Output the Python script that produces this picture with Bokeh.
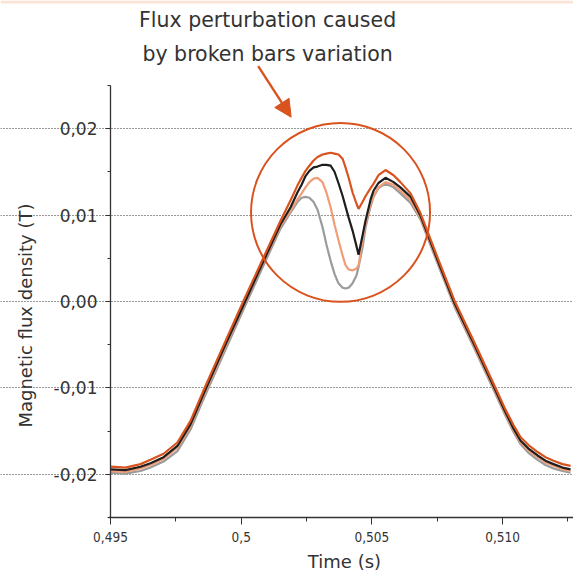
import math
from bokeh.plotting import figure
from bokeh.models import FixedTicker, Label, Arrow, NormalHead, Range1d, BoxAnnotation
from bokeh.embed import file_html
from bokeh.resources import INLINE

# ---- data ----
time_s = [0.49500, 0.49557, 0.49615, 0.49653, 0.49703, 0.49756, 0.49806, 0.49860,
          0.49932, 0.50009, 0.50081, 0.50150,
          0.50189, 0.50215, 0.50231, 0.50246, 0.50261, 0.50277, 0.50292, 0.50311,
          0.50326, 0.50342, 0.50357, 0.50372, 0.50388, 0.50399, 0.50411, 0.50426,
          0.50441, 0.50449, 0.50464, 0.50476, 0.50495, 0.50506, 0.50525, 0.50552,
          0.50583, 0.50609, 0.50648,
          0.50686, 0.50751, 0.50816, 0.50893, 0.50973, 0.51011, 0.51042, 0.51069,
          0.51099, 0.51134, 0.51164, 0.51195, 0.51229, 0.51260]

flux_orange = [-0.0191, -0.0192, -0.0188, -0.0183, -0.0176, -0.0163, -0.0138, -0.0100,
               -0.0051, 0.0001, 0.0048, 0.0093,
               0.0117, 0.0134, 0.0143, 0.0151, 0.0157, 0.0163, 0.0167, 0.0170,
               0.0171, 0.0172, 0.0171, 0.0170, 0.0165, 0.0155, 0.0143, 0.0126,
               0.0113, 0.0107, 0.0115, 0.0122, 0.0131, 0.0136, 0.0146, 0.0152,
               0.0146, 0.0138, 0.0125,
               0.0102, 0.0051, 0.0001, -0.0048, -0.0100, -0.0125, -0.0143, -0.0157,
               -0.0166, -0.0174, -0.0180, -0.0184, -0.0188, -0.0190]

flux_black = [-0.0194, -0.0195, -0.0191, -0.0187, -0.0180, -0.0167, -0.0142, -0.0104,
              -0.0055, -0.0004, 0.0044, 0.0089,
              0.0109, 0.0126, 0.0135, 0.0145, 0.0151, 0.0155, 0.0156, 0.0158,
              0.0158, 0.0157, 0.0150, 0.0137, 0.0122, 0.0110, 0.0097, 0.0082,
              0.0064, 0.0054, 0.0076, 0.0094, 0.0118, 0.0128, 0.0137, 0.0143,
              0.0138, 0.0132, 0.0121,
              0.0099, 0.0048, -0.0002, -0.0051, -0.0103, -0.0128, -0.0147, -0.0161,
              -0.0170, -0.0178, -0.0184, -0.0188, -0.0192, -0.0194]

flux_salmon = [-0.0196, -0.0197, -0.0193, -0.0189, -0.0182, -0.0169, -0.0144, -0.0106,
               -0.0057, -0.0005, 0.0043, 0.0087,
               0.0105, 0.0118, 0.0125, 0.0132, 0.0138, 0.0142, 0.0143, 0.0138,
               0.0126, 0.0109, 0.0089, 0.0071, 0.0053, 0.0042, 0.0037, 0.0036,
               0.0038, 0.0042, 0.0070, 0.0090, 0.0113, 0.0122, 0.0132, 0.0138,
               0.0135, 0.0128, 0.0117,
               0.0097, 0.0046, -0.0004, -0.0053, -0.0105, -0.0130, -0.0149, -0.0163,
               -0.0172, -0.0180, -0.0186, -0.0190, -0.0194, -0.0196]

flux_grey = [-0.0198, -0.0199, -0.0196, -0.0192, -0.0185, -0.0173, -0.0148, -0.0110,
             -0.0061, -0.0009, 0.0039, 0.0084,
             0.0103, 0.0115, 0.0120, 0.0121, 0.0120, 0.0115, 0.0106, 0.0086,
             0.0066, 0.0047, 0.0032, 0.0021, 0.0016, 0.0015, 0.0016, 0.0021,
             0.0030, 0.0040, 0.0062, 0.0086, 0.0110, 0.0121, 0.0131, 0.0136,
             0.0132, 0.0125, 0.0114,
             0.0095, 0.0044, -0.0006, -0.0055, -0.0107, -0.0132, -0.0151, -0.0165,
             -0.0175, -0.0183, -0.0189, -0.0193, -0.0196, -0.0198]

x_ticks = [0.495, 0.500, 0.505, 0.510]
x_tick_labels = ["0,495", "0,5", "0,505", "0,510"]
x_minor_ticks = [0.4975, 0.5025, 0.5075, 0.5125]
y_ticks = [-0.02, -0.01, 0.0, 0.01, 0.02]
y_tick_labels = ["-0,02", "-0,01", "0,00", "0,01", "0,02"]
y_minor_ticks = [-0.025, -0.015, -0.005, 0.005, 0.015, 0.025]

annotation_lines = ["Flux perturbation caused", "by broken bars variation"]
x_title = "Time (s)"
y_title = "Magnetic flux density (T)"

# layout anchors (data units)
x_view = (0.490792, 0.512712)
y_view = (-0.031561, 0.034798)
x_axis_extent = (0.49493, 0.51271)
y_axis_extent = (-0.025, 0.025)
circle_center = (0.5038, 0.0103)
text_anchor_x = 0.50101
text_anchor_y = [0.0326, 0.02867]
arrow_from = (0.50065, 0.0272)
arrow_to = (0.50191, 0.02131)
x_title_pos = (0.50395, -0.03006)
y_title_pos = (0.49175, -0.00162)
band_bottom = 0.03445

ORANGE = "#d9531e"
BLACK = "#1e1e1e"
SALMON = "#f09d78"
GREY = "#9b9b9b"
AXIS = "#333333"
FONT = "DejaVu Sans"

p = figure(width=573, height=574, output_backend="svg", toolbar_location=None,
           x_range=Range1d(*x_view), y_range=Range1d(*y_view),
           min_border_left=0, min_border_right=0, min_border_top=0, min_border_bottom=0)
p.outline_line_color = None
p.background_fill_color = "white"
p.border_fill_color = "white"

p.add_layout(BoxAnnotation(bottom=band_bottom, fill_color="#fbe3d6", fill_alpha=1,
                           line_color=None))

# axes drawn at fixed data locations
p.xaxis.fixed_location = y_axis_extent[0]
p.yaxis.fixed_location = x_ticks[0]
p.xaxis.bounds = x_axis_extent
p.yaxis.bounds = y_axis_extent
p.xaxis.ticker = FixedTicker(ticks=x_ticks, minor_ticks=x_minor_ticks)
p.xaxis.major_label_overrides = {t: l for t, l in zip(x_ticks, x_tick_labels)}
p.yaxis.ticker = FixedTicker(ticks=y_ticks, minor_ticks=y_minor_ticks)
p.yaxis.major_label_overrides = {t: l for t, l in zip(y_ticks, y_tick_labels)}

for ax in (p.xaxis, p.yaxis):
    ax.axis_line_color = AXIS
    ax.axis_line_width = 1.3
    ax.major_tick_line_color = AXIS
    ax.minor_tick_line_color = AXIS
    ax.major_tick_in = 0
    ax.minor_tick_in = 0
    ax.major_label_text_color = AXIS

p.xaxis.major_tick_out = 7
p.xaxis.minor_tick_out = 4
p.xaxis.major_label_text_font = "'Liberation Sans Narrow', 'DejaVu Sans Condensed', 'DejaVu Sans'"
p.xaxis.major_label_text_font_size = "13.5px"
p.xaxis.major_label_standoff = 7

p.yaxis.major_tick_out = 5
p.yaxis.minor_tick_out = 3
p.yaxis.major_label_text_font = FONT
p.yaxis.major_label_text_font_size = "17px"
p.yaxis.major_label_standoff = 8

p.xgrid.visible = False
p.ygrid.ticker = FixedTicker(ticks=y_ticks)
p.ygrid.bounds = (x_ticks[0], x_view[1])
p.ygrid.grid_line_color = "#333333"
p.ygrid.grid_line_dash = "1 2"
p.ygrid.grid_line_width = 1

# series
p.line(time_s, flux_grey, line_color=GREY, line_width=2.2)
p.line(time_s, flux_salmon, line_color=SALMON, line_width=2.2)
p.line(time_s, flux_black, line_color=BLACK, line_width=2.2)
p.line(time_s, flux_orange, line_color=ORANGE, line_width=2.2)

# highlight circle
p.scatter(x=[circle_center[0]], y=[circle_center[1]], marker="circle", size=179,
          fill_color=None, line_color=ORANGE, line_width=2)

# arrow
p.add_layout(Arrow(end=NormalHead(size=17, fill_color=ORANGE, line_color=ORANGE),
                   x_start=arrow_from[0], y_start=arrow_from[1],
                   x_end=arrow_to[0], y_end=arrow_to[1],
                   line_color=ORANGE, line_width=2.4))

# texts
for txt, ty in zip(annotation_lines, text_anchor_y):
    p.add_layout(Label(x=text_anchor_x, y=ty, text=txt, text_align="center",
                       text_baseline="middle", text_font=FONT, text_font_size="20.5px",
                       text_color=AXIS))
p.add_layout(Label(x=x_title_pos[0], y=x_title_pos[1], text=x_title, text_align="center",
                   text_baseline="middle", text_font=FONT, text_font_size="18px",
                   text_color=AXIS))
p.add_layout(Label(x=y_title_pos[0], y=y_title_pos[1], text=y_title, text_align="center",
                   text_baseline="middle", text_font=FONT, text_font_size="18px",
                   text_color=AXIS, angle=math.pi / 2))

open("out.html", "w").write(file_html(p, INLINE))
